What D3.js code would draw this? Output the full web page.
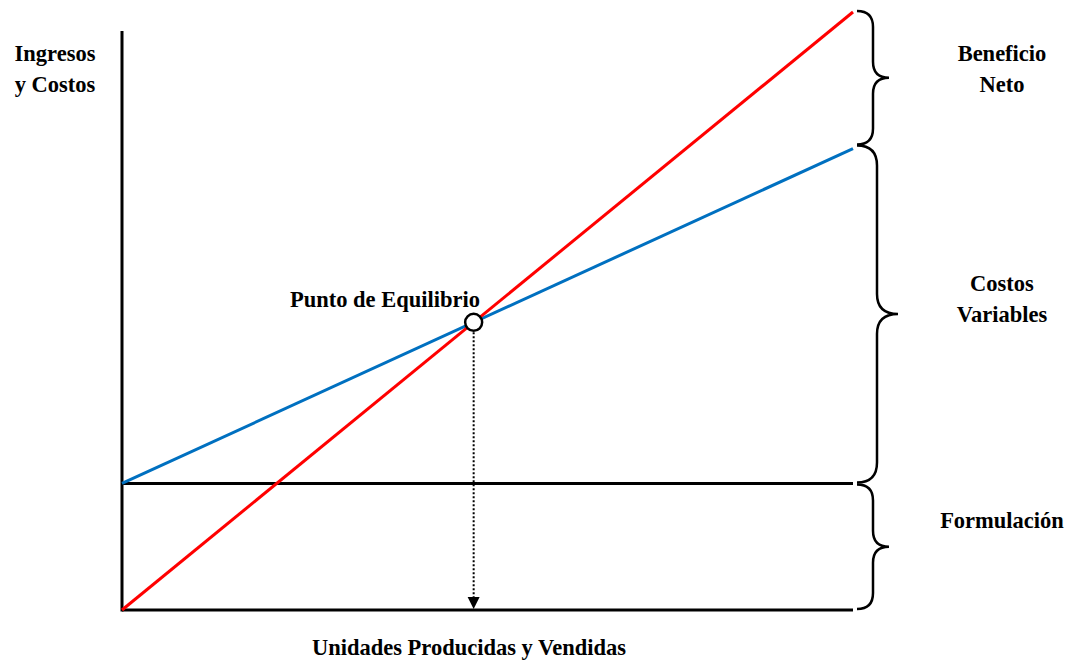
<!DOCTYPE html>
<html>
<head>
<meta charset="utf-8">
<script src="https://cdn.jsdelivr.net/npm/d3@7"></script>
<style>
  html, body { margin: 0; padding: 0; background: #fff; }
  svg text { font-family: "Liberation Serif", "Times New Roman", serif; font-weight: bold; font-size: 22.5px; fill: #000; }
</style>
</head>
<body>
<svg id="chart" width="1076" height="661"></svg>
<script>
// ---- data ----
const units = [0, 100];
const revenue = [0, 600];
const fixedCost = [127, 127];
const totalCost = [127, 463];
const yLabelLines = ["Ingresos", "y Costos"];
const xLabel = "Unidades Producidas y Vendidas";
const breakEvenLabel = "Punto de Equilibrio";
const braceLabels = [["Beneficio", "Neto"], ["Costos", "Variables"], ["Formulación"]];

// ---- layout ----
const svg = d3.select("#chart");
const x = d3.scaleLinear().domain([0, 100]).range([122, 853]);
const y = d3.scaleLinear().domain([0, 600]).range([610, 12]);

// break-even from the two lines
const rSlope = (revenue[1] - revenue[0]) / (units[1] - units[0]);
const cSlope = (totalCost[1] - totalCost[0]) / (units[1] - units[0]);
const beQ = (totalCost[0] - revenue[0]) / (rSlope - cSlope);
const beV = revenue[0] + rSlope * beQ;

const line = d3.line().x(d => x(d[0])).y(d => y(d[1]));
const pts = arr => units.map((u, i) => [u, arr[i]]);

// axes
svg.append("line").attr("x1", x(0)).attr("x2", x(0)).attr("y1", 31).attr("y2", y(0) + 1.5)
  .attr("stroke", "#000").attr("stroke-width", 3);
svg.append("line").attr("x1", x(0)).attr("x2", x(100)).attr("y1", y(0)).attr("y2", y(0))
  .attr("stroke", "#000").attr("stroke-width", 3);
// fixed cost
svg.append("path").attr("d", line(pts(fixedCost))).attr("stroke", "#000").attr("stroke-width", 3).attr("fill", "none");
// total cost
svg.append("path").attr("d", line(pts(totalCost))).attr("stroke", "#0070c0").attr("stroke-width", 3).attr("fill", "none");
// revenue
svg.append("path").attr("d", line(pts(revenue))).attr("stroke", "#ff0000").attr("stroke-width", 3).attr("fill", "none");

// dotted drop line + arrow
const bx = x(beQ), by = y(beV);
svg.append("line").attr("x1", bx).attr("x2", bx).attr("y1", by + 10).attr("y2", y(0) - 12)
  .attr("stroke", "#000").attr("stroke-width", 2).attr("stroke-dasharray", "2,2");
svg.append("path").attr("d", `M${bx - 6},${y(0) - 13} L${bx + 6},${y(0) - 13} L${bx},${y(0) - 1} Z`).attr("fill", "#000");

// break-even circle
svg.append("circle").attr("cx", bx).attr("cy", by).attr("r", 8.5)
  .attr("fill", "#fff").attr("stroke", "#000").attr("stroke-width", 2.5);
svg.append("text").attr("x", 385).attr("y", 307).attr("text-anchor", "middle").text(breakEvenLabel);

// braces
function brace(y0, y1, x0, xv, xt) {
  const r = xv - x0;
  const ym = (y0 + y1) / 2;
  return `M${x0},${y0} Q${xv},${y0} ${xv},${y0 + r} L${xv},${ym - r} Q${xv},${ym} ${xt},${ym} ` +
         `Q${xv},${ym} ${xv},${ym + r} L${xv},${y1 - r} Q${xv},${y1} ${x0},${y1}`;
}
const braceSpans = [
  [y(revenue[1]) - 1, y(totalCost[1]) - 4, 857, 873, 889],
  [y(totalCost[1]) - 3, y(fixedCost[1]) - 1, 857, 877, 898],
  [y(fixedCost[1]) + 1, y(0) - 1, 857, 873, 889]
];
const labelX = 1002;
braceSpans.forEach((b, i) => {
  svg.append("path").attr("d", brace(b[0], b[1], b[2], b[3], b[4]))
    .attr("fill", "none").attr("stroke", "#000").attr("stroke-width", 2.5);
});
// labels beside braces
const braceLabelY = [[61, 92], [291, 322], [528]];
braceLabels.forEach((lines, i) => {
  lines.forEach((t, j) => {
    svg.append("text").attr("x", labelX).attr("y", braceLabelY[i][j]).attr("text-anchor", "middle").text(t);
  });
});

// y label
yLabelLines.forEach((t, j) => {
  svg.append("text").attr("x", 55).attr("y", 61 + j * 31).attr("text-anchor", "middle").text(t);
});
// x label
svg.append("text").attr("x", 469).attr("y", 655).attr("text-anchor", "middle").text(xLabel);
</script>
</body>
</html>
